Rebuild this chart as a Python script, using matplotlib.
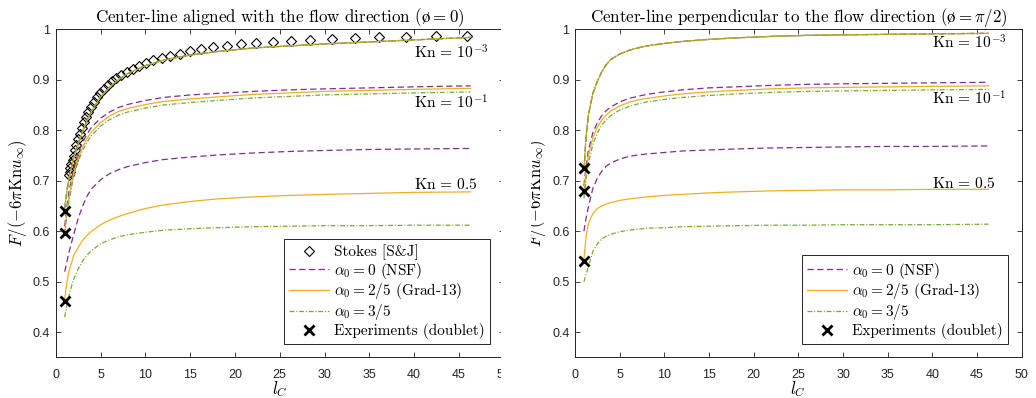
import matplotlib
matplotlib.use("Agg")
import matplotlib.pyplot as plt
from matplotlib.lines import Line2D
from matplotlib.patches import Rectangle

plt.rcParams['font.family'] = 'Liberation Sans'
plt.rcParams['mathtext.fontset'] = 'cm'
plt.rcParams['lines.scale_dashes'] = False

SERIF = ['cmr10', 'DejaVu Serif']
AX_COL = '#262626'
C_NSF = '#7E2F8E'
C_G13 = '#EDB120'
C_35 = '#77AC30'

# common l_C nodes for the model curves
LC = [1, 1.25, 1.5, 2, 2.5, 3, 3.5, 4, 5, 6, 7, 8, 10, 12, 15, 18, 22, 26, 30, 35, 40, 46.3]

# ---- aligned (phi = 0)
AL_KN3 = [0.645, 0.680, 0.707, 0.745, 0.773, 0.797, 0.820, 0.838, 0.866, 0.885, 0.900,
          0.912, 0.928, 0.939, 0.949, 0.956, 0.963, 0.967, 0.971, 0.975, 0.979, 0.984]
AL_KN1_NSF = [0.610, 0.650, 0.680, 0.725, 0.755, 0.776, 0.793, 0.806, 0.824, 0.836, 0.845,
              0.851, 0.859, 0.865, 0.870, 0.873, 0.877, 0.880, 0.882, 0.884, 0.886, 0.888]
AL_KN1_G13 = [0.600, 0.640, 0.670, 0.715, 0.745, 0.767, 0.784, 0.797, 0.815, 0.828, 0.837,
              0.843, 0.851, 0.857, 0.862, 0.866, 0.871, 0.874, 0.877, 0.879, 0.881, 0.883]
AL_KN1_35 = [0.595, 0.633, 0.663, 0.708, 0.738, 0.760, 0.777, 0.790, 0.808, 0.821, 0.830,
             0.836, 0.844, 0.850, 0.855, 0.859, 0.864, 0.867, 0.870, 0.872, 0.874, 0.876]
AL_KN5_NSF = [0.520, 0.540, 0.560, 0.593, 0.625, 0.650, 0.670, 0.684, 0.702, 0.714, 0.722,
              0.728, 0.736, 0.742, 0.747, 0.751, 0.755, 0.758, 0.760, 0.762, 0.763, 0.764]
AL_KN5_G13 = [0.465, 0.500, 0.522, 0.552, 0.568, 0.582, 0.592, 0.600, 0.613, 0.622, 0.629,
              0.635, 0.645, 0.652, 0.659, 0.664, 0.668, 0.671, 0.673, 0.675, 0.677, 0.678]
AL_KN5_35 = [0.430, 0.455, 0.475, 0.505, 0.525, 0.541, 0.553, 0.562, 0.575, 0.583, 0.589,
             0.593, 0.598, 0.602, 0.605, 0.607, 0.609, 0.610, 0.611, 0.611, 0.612, 0.612]

# Stokes solution [S&J], aligned case
SJ_LC = [1.454, 1.543, 1.642, 1.752, 1.873, 2.005, 2.151, 2.310, 2.485, 2.675, 2.882,
         3.108, 3.353, 3.620, 3.910, 4.226, 4.568, 4.940, 5.343, 5.780, 6.255, 6.769,
         7.327, 7.932, 8.587, 9.298, 10.07, 10.90, 11.81, 12.79, 13.85, 15.00, 16.25,
         17.60, 19.06, 20.64, 22.36, 24.22, 26.24, 28.42, 30.79, 33.35, 36.13, 39.14,
         42.39, 45.92]
SJ_F = [0.711, 0.718, 0.725, 0.733, 0.741, 0.750, 0.760, 0.771, 0.782, 0.793, 0.805,
        0.816, 0.827, 0.837, 0.846, 0.856, 0.865, 0.873, 0.881, 0.889, 0.897, 0.904,
        0.910, 0.916, 0.922, 0.928, 0.934, 0.939, 0.944, 0.948, 0.952, 0.957, 0.961,
        0.964, 0.967, 0.970, 0.972, 0.974, 0.976, 0.978, 0.980, 0.982, 0.984, 0.985,
        0.986, 0.987]

# ---- perpendicular (phi = pi/2)
PE_KN3 = [0.720, 0.790, 0.830, 0.873, 0.897, 0.916, 0.930, 0.940, 0.951, 0.958, 0.963,
          0.967, 0.972, 0.976, 0.980, 0.983, 0.986, 0.988, 0.989, 0.990, 0.991, 0.992]
PE_KN1_NSF = [0.690, 0.730, 0.760, 0.795, 0.815, 0.829, 0.839, 0.846, 0.856, 0.863, 0.867,
              0.871, 0.876, 0.880, 0.884, 0.886, 0.889, 0.891, 0.892, 0.893, 0.894, 0.895]
PE_KN1_G13 = [0.680, 0.720, 0.750, 0.785, 0.806, 0.820, 0.830, 0.838, 0.848, 0.855, 0.860,
              0.863, 0.868, 0.872, 0.876, 0.879, 0.882, 0.884, 0.885, 0.886, 0.887, 0.888]
PE_KN1_35 = [0.665, 0.705, 0.735, 0.772, 0.795, 0.810, 0.821, 0.829, 0.840, 0.847, 0.852,
             0.856, 0.861, 0.865, 0.869, 0.872, 0.875, 0.877, 0.878, 0.879, 0.880, 0.881]
PE_KN5_NSF = [0.600, 0.627, 0.648, 0.685, 0.705, 0.719, 0.729, 0.735, 0.743, 0.748, 0.751,
              0.753, 0.756, 0.759, 0.761, 0.763, 0.765, 0.766, 0.767, 0.768, 0.768, 0.769]
PE_KN5_G13 = [0.545, 0.590, 0.615, 0.635, 0.645, 0.650, 0.654, 0.657, 0.661, 0.664, 0.666,
              0.668, 0.671, 0.673, 0.676, 0.678, 0.680, 0.681, 0.682, 0.682, 0.683, 0.683]
PE_KN5_35 = [0.500, 0.515, 0.530, 0.560, 0.575, 0.585, 0.590, 0.594, 0.599, 0.602, 0.604,
             0.606, 0.607, 0.609, 0.610, 0.611, 0.612, 0.612, 0.613, 0.613, 0.613, 0.614]

# experiments (doublet)
EXP_LC = [1, 1, 1]
EXP_AL = [0.640, 0.597, 0.462]
EXP_PE = [0.725, 0.680, 0.542]

KN_LABELS = [r'$\mathrm{Kn}\,=\,10^{-3}$', r'$\mathrm{Kn}\,=\,10^{-1}$', r'$\mathrm{Kn}\,=\,0.5$']
KN_POS_AL = [0.953, 0.854, 0.693]
KN_POS_PE = [0.973, 0.863, 0.694]

STY_NSF = dict(color=C_NSF, lw=0.9, dashes=(4.5, 2.5))
STY_G13 = dict(color=C_G13, lw=0.9, ls='-')
STY_35 = dict(color=C_35, lw=0.9, dashes=(3.5, 1.3, 0.8, 1.3))

LEG_LABELS = ['Stokes [S&J]', r'$\alpha_0 = 0$ (NSF)', r'$\alpha_0 = 2/5$ (Grad-13)',
              r'$\alpha_0 = 3/5$', 'Experiments (doublet)']


def style_axes(ax):
    ax.set_xlim(0, 50)
    ax.set_ylim(0.35, 1.0)
    ax.set_xticks(range(0, 51, 5))
    ax.set_yticks([0.4, 0.5, 0.6, 0.7, 0.8, 0.9, 1.0])
    ax.set_yticklabels(['0.4', '0.5', '0.6', '0.7', '0.8', '0.9', '1'])
    ax.tick_params(direction='in', top=True, right=True, length=3.5, width=0.6,
                   colors=AX_COL, labelsize=9)
    ax.tick_params(axis='x', pad=8)
    ax.tick_params(axis='y', pad=4)
    for s in ax.spines.values():
        s.set_color(AX_COL)
        s.set_linewidth(0.7)
    ax.set_xlabel(r'$l_C$', fontsize=12, labelpad=-1)
    ax.set_ylabel(r'$F/(-6\pi\mathrm{Kn}u_\infty)$', fontsize=12, labelpad=3)


def draw_panel(ax, kn3, kn1, kn5, exp_y, kn_pos, title, stokes):
    handles = []
    if stokes:
        ax.plot(SJ_LC, SJ_F, ls='none', marker='D', ms=5.5, mfc='none', mec='black', mew=0.8)
        handles.append(Line2D([], [], ls='none', marker='D', ms=5.5, mfc='none', mec='black', mew=0.8))
    for sty, a, b, c in [(STY_NSF, kn3, kn1[0], kn5[0]), (STY_G13, kn3, kn1[1], kn5[1]),
                         (STY_35, kn3, kn1[2], kn5[2])]:
        ax.plot(LC, a, **sty)
        ax.plot(LC, b, **sty)
        ax.plot(LC, c, **sty)
        handles.append(Line2D([], [], **sty))
    ax.plot(EXP_LC, exp_y, ls='none', marker='x', ms=7, mew=2, color='black', zorder=5)
    handles.append(Line2D([], [], ls='none', marker='x', ms=7, mew=2, color='black'))
    labels = LEG_LABELS if stokes else LEG_LABELS[1:]
    for lab, yv in zip(KN_LABELS, kn_pos):
        ax.text(40, yv, lab, fontsize=11.2, va='center', ha='left')
    ax.set_title(title, fontsize=12.2, family=SERIF, pad=5)
    leg = ax.legend(handles, labels, loc='lower right', bbox_to_anchor=(0.969, 0.04),
                    borderaxespad=0, prop={'family': SERIF, 'size': 11}, fancybox=False,
                    framealpha=1, edgecolor=AX_COL, handlelength=2.6, handletextpad=0.3,
                    labelspacing=0.05, borderpad=0.35)
    leg.get_frame().set_linewidth(0.7)
    style_axes(ax)


fig = plt.figure(figsize=(10.36, 3.98), dpi=100)
ax1 = fig.add_axes([0.0538, 0.1018, 0.4324, 0.8246])
ax2 = fig.add_axes([0.5550, 0.1018, 0.4312, 0.8246])

draw_panel(ax1, AL_KN3, (AL_KN1_NSF, AL_KN1_G13, AL_KN1_35), (AL_KN5_NSF, AL_KN5_G13, AL_KN5_35),
           EXP_AL, KN_POS_AL, r'Center-line aligned with the flow direction ($\mathrm{\o} = 0$)', True)
draw_panel(ax2, PE_KN3, (PE_KN1_NSF, PE_KN1_G13, PE_KN1_35), (PE_KN5_NSF, PE_KN5_G13, PE_KN5_35),
           EXP_PE, KN_POS_PE, r'Center-line perpendicular to the flow direction ($\mathrm{\o} = \pi/2$)', False)

# the left panel is cut off just before its right edge in the original
fig.add_artist(Rectangle((500.5 / 1036, 0), 30 / 1036, 1, transform=fig.transFigure,
                         facecolor='white', edgecolor='none', zorder=10))

fig.savefig('out.png', dpi=100)
